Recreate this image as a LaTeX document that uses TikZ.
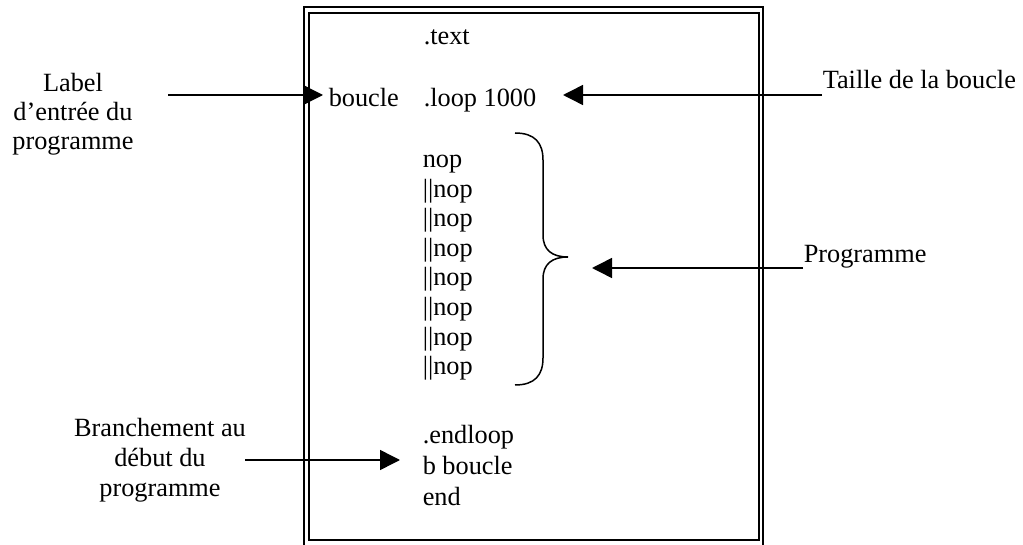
\documentclass[tikz,border=0pt]{standalone}
\usepackage{fontspec}
\setmainfont{Liberation Serif}
\usetikzlibrary{arrows.meta}

\begin{document}
\begin{tikzpicture}[x=0.5pt,y=-0.5pt,>={Triangle[length=10pt,width=10pt]},line width=0.75pt,font=\fontsize{13.15}{15}\selectfont]
  \tikzstyle{code}=[anchor=base west,inner sep=0pt]
  \tikzstyle{note}=[align=center,inner sep=0pt]
  \tikzstyle{pointer}=[->,line width=0.75pt]
  \useasboundingbox (0,0) rectangle (1023,545);

  % double frame
  \draw[line width=1.2pt] (304,548) -- (304,7) -- (763,7) -- (763,548);
  \draw[line width=0.6pt] (309,13) rectangle (759,540);

  % code lines
  \node[code] (text)    at (423,45)  {.text};
  \node[code] (boucle)  at (328,107) {boucle};
  \node[code] (loop)    at (423,107) {.loop 1000};
  \node[code] (nop1)    at (422,168) {nop};
  \foreach \i in {2,...,8}
    \node[code] (nop\i) at (422,{168+29.5*(\i-1)}) {||nop};
  \node[code] (endloop) at (422,443) {.endloop};
  \node[code] (bjump)   at (422,474) {b boucle};
  \node[code] (fin)     at (422,505) {end};

  % brace
  \draw (515,133) .. controls (535,133) and (543,143) .. (543,160) -- (543,235)
        .. controls (543,250) and (552,257) .. (568,257) coordinate (brtip)
        .. controls (552,257) and (543,264) .. (543,279) -- (543,358)
        .. controls (543,375) and (535,385) .. (515,385);

  % notes
  \node[note,font=\fontsize{13.15}{14.5}\selectfont] (label) at (73,114) {Label\\d’entrée du\\programme};
  \node[note] (branch) at (160,460) {Branchement au\\début du\\programme};
  \node[code] (taille) at (822,89)  {Taille de la boucle};
  \node[code] (prog)   at (803,263) {Programme};

  \coordinate (lblout) at (168,95);
  \coordinate (brout) at (245,460);
  \coordinate (tailleout) at ([yshift=-3pt]taille.base west);
  \coordinate (progout) at ([yshift=-2.5pt]prog.base west);

  \draw[pointer,shorten >=2.5pt] (lblout) -- (lblout -| boucle.west);
  \draw[pointer,shorten >=13pt] (tailleout) -- (tailleout -| loop.east);
  \draw[pointer,shorten >=12pt] (progout) -- (progout -| brtip);
  \draw[pointer,shorten >=11pt] (brout) -- (brout -| endloop.west);
\end{tikzpicture}
\end{document}
